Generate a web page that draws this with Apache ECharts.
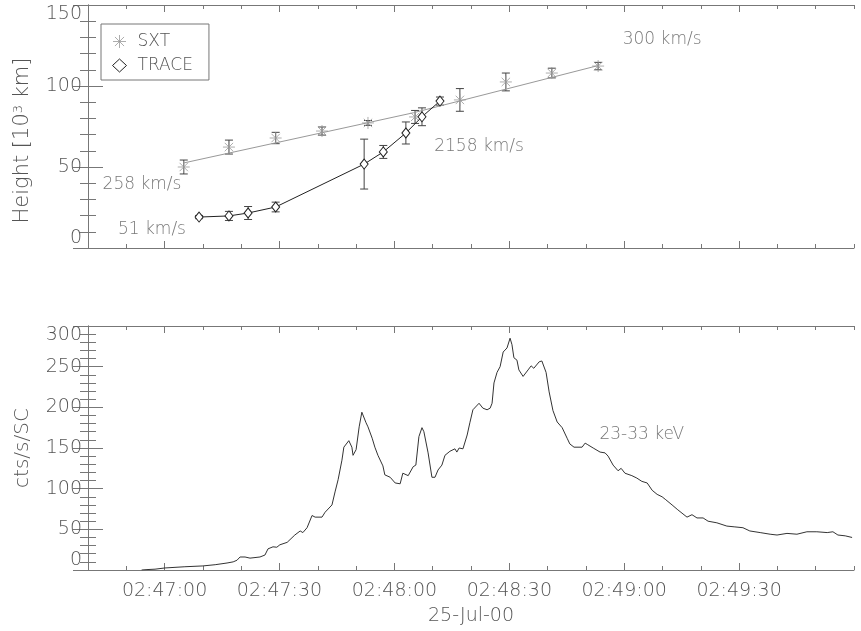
<!DOCTYPE html>
<html>
<head>
<meta charset="utf-8">
<script src="https://cdn.jsdelivr.net/npm/echarts@6/dist/echarts.min.js"></script>
<style>html,body{margin:0;padding:0;background:#fff}#c{width:861px;height:631px}</style>
</head>
<body>
<div id="c"></div>
<script>
// time axis: seconds after 02:46:40 (25-Jul-00)
const xMin = 0, xMax = 200;
const majorTicks = [20, 50, 80, 110, 140, 170];

// SXT heights (10^3 km)
const sxtTime = [25.0, 36.8, 49.0, 61.1, 73.1, 85.4, 97.1, 109.1, 121.1, 133.2];
const sxtHeight = [50.0, 62.3, 67.9, 72.2, 77.2, 80.9, 91.4, 102.5, 108.0, 112.3];
const sxtErr = [4.3, 4.3, 3.5, 2.5, 1.5, 4.0, 7.0, 5.5, 3.0, 2.3];
// SXT linear fits (258 km/s, 300 km/s)
const sxtFitTime = [25, 85, 133];
const sxtFitHeight = [52.5, 83.5, 112.5];

// TRACE heights
const traceTime = [29.0, 36.8, 41.8, 49.0, 72.1, 77.1, 83.0, 87.2, 91.9];
const traceHeight = [19.1, 19.8, 21.6, 25.3, 51.8, 59.3, 71.0, 81.0, 90.7];
const traceErr = [1.0, 2.8, 4.0, 3.0, 15.4, 4.0, 6.8, 5.5, 2.5];

// annotations [time, height, text]
const topNotes = [[14.1, 38.9, '258 km/s'], [16.7, 11.1, '51 km/s'], [102.1, 62.3, '2158 km/s'], [149.9, 128.4, '300 km/s']];
const bottomNotes = [[144.6, 166, '23-33 keV']];

// HXR light curve 23-33 keV (cts/s/SC)
const hxrTime = [14.0, 15.4, 17.5, 20.1, 25.3, 30.0, 33.2, 36.3, 37.9, 38.9, 39.7, 41.0, 42.3, 44.9, 46.2, 47.0, 48.3, 49.3, 50.1, 52.0,
  54.0, 55.4, 56.1, 57.2, 58.5, 59.3, 61.1, 61.9, 63.7, 64.5, 65.3, 66.3, 66.8, 68.1, 68.9, 69.2, 70.0, 70.8, 71.5, 71.8,
  72.6, 73.1, 74.2, 74.9, 75.7, 77.0, 77.5, 78.9, 80.2, 81.5, 82.2, 83.6, 84.9, 85.6, 86.4, 87.2, 87.7, 88.8, 89.8, 90.6,
  91.4, 92.4, 93.2, 94.5, 95.8, 96.3, 96.9, 97.9, 99.0, 99.7, 100.5, 102.1, 103.1, 104.2, 105.0, 105.5, 106.0, 106.8, 107.6, 108.4,
  109.4, 110.2, 110.7, 111.2, 112.0, 112.5, 113.6, 114.9, 115.7, 116.4, 117.8, 118.5, 119.6, 120.4, 121.4, 122.5, 123.8, 125.1, 125.8, 126.9,
  128.2, 129.0, 129.8, 130.5, 131.9, 133.7, 135.0, 135.8, 137.1, 138.4, 139.2, 140.2, 142.0, 143.3, 144.6, 146.0, 147.3, 148.6, 149.9, 150.7,
  152.5, 154.0, 156.4, 157.7, 159.0, 160.6, 161.9, 164.2, 166.8, 168.9, 171.0, 172.8, 175.5, 178.1, 179.9, 182.5, 185.1, 187.7, 190.3, 193.0,
  194.5, 195.8, 197.7, 199.5];
const hxrCounts = [0, 0.5, 1, 2.5, 4, 5, 6.5, 8.6, 10, 12, 16, 16, 14.6, 16, 18.4, 26, 28.5, 28, 31, 34,
  43, 48, 46, 52, 67, 65, 65, 71, 80, 96, 111, 135, 151, 159, 151, 141, 148, 176, 194, 193,
  181, 176, 162, 151, 141, 128, 117, 114, 107, 106, 119, 116, 127, 129, 164, 175, 170, 144, 114, 114,
  123, 129, 141, 146, 149, 145, 150, 149, 166, 181, 197, 205, 199, 197, 199, 205, 230, 243, 250, 268,
  273, 285, 277, 261, 258, 246, 238, 246, 251, 248, 256, 257, 243, 219, 196, 182, 175, 162, 155, 151,
  151, 151, 156, 154, 150, 145, 144, 140, 129, 122, 125, 119, 116, 113, 109, 107, 98, 93, 90, 87,
  80, 74, 65, 68, 64, 64, 60, 58, 54, 53, 52, 48, 46, 44, 43, 45, 44, 47, 47, 46,
  47, 43, 42, 40];

const FONT = "'DejaVu Sans', sans-serif";
const FW = 200;
const AX = '#777', TXT = '#555';
const ASTER = 'path://M0,-10L0,10M-10,0L10,0M-7,-7L7,7M-7,7L7,-7';

function fmt(t) {
  const s = 46 * 60 + 40 + Math.round(t);
  const m = Math.floor(s / 60), ss = s % 60;
  return '02:' + String(m).padStart(2, '0') + ':' + String(ss).padStart(2, '0');
}
function zip(a, b, c) { return a.map((v, i) => c ? [v, b[i], c[i]] : [v, b[i]]); }

function xAx(grid, pos, major, withLabels, extra) {
  const o = {
    type: 'value', gridIndex: grid, position: pos, min: xMin, max: xMax,
    splitLine: { show: false },
    axisLine: { show: !major, lineStyle: { color: AX, width: 1 } },
    axisTick: { show: true, inside: true, length: major ? 7 : 4, lineStyle: { color: AX } },
    axisLabel: { show: false }
  };
  if (major) {
    o.axisTick.customValues = majorTicks;
    if (withLabels) {
      o.axisLabel = { show: true, customValues: majorTicks, formatter: fmt, margin: 12, fontSize: 19,
        color: TXT, fontFamily: FONT, fontWeight: FW };
    }
  } else {
    o.interval = 10;
  }
  return Object.assign(o, extra || {});
}
function yAx(grid, pos, max, withLabels, extra) {
  return Object.assign({
    type: 'value', gridIndex: grid, position: pos, min: 0, max: max, interval: 50,
    splitLine: { show: false },
    axisLine: { show: true, lineStyle: { color: AX, width: 1 } },
    axisTick: { show: true, inside: true, length: 15, lineStyle: { color: AX } },
    minorTick: { show: true, splitNumber: 5, length: 8, lineStyle: { color: AX } },
    axisLabel: withLabels ? { show: true, margin: 6, fontSize: 19, color: TXT, fontFamily: FONT, fontWeight: FW,
      verticalAlignMinLabel: 'bottom', verticalAlignMaxLabel: 'top' } : { show: false }
  }, extra || {});
}

function errRender(params, api) {
  const x = api.value(0), y = api.value(1), e = api.value(2);
  const p0 = api.coord([x, y - e]), p1 = api.coord([x, y + e]);
  const w = 4;
  const st = { stroke: '#444', lineWidth: 1 };
  return {
    type: 'group', children: [
      { type: 'line', shape: { x1: p0[0], y1: p0[1], x2: p1[0], y2: p1[1] }, style: st },
      { type: 'line', shape: { x1: p0[0] - w, y1: p0[1], x2: p0[0] + w, y2: p0[1] }, style: st },
      { type: 'line', shape: { x1: p1[0] - w, y1: p1[1], x2: p1[0] + w, y2: p1[1] }, style: st }
    ]
  };
}
function noteSeries(notes, xi, yi) {
  return {
    type: 'scatter', xAxisIndex: xi, yAxisIndex: yi, symbolSize: 1, silent: true,
    itemStyle: { color: 'transparent' },
    data: notes.map(n => ({ value: [n[0], n[1]], label: { formatter: n[2] } })),
    label: { show: true, position: 'inside', fontSize: 17, color: TXT, fontFamily: FONT, fontWeight: FW }
  };
}

const chart = echarts.init(document.getElementById('c'));
chart.setOption({
  animation: false,
  backgroundColor: '#fff',
  grid: [
    { left: 88, right: 7, top: 5, height: 243 },
    { left: 88, right: 7, top: 326, height: 244 }
  ],
  xAxis: [
    xAx(0, 'bottom', false, false),
    xAx(0, 'bottom', true, false),
    xAx(0, 'top', false, false),
    xAx(0, 'top', true, false),
    xAx(1, 'bottom', false, false),
    xAx(1, 'bottom', true, true, { name: '25-Jul-00', nameLocation: 'middle', nameGap: 37,
      nameTextStyle: { fontSize: 19, color: TXT, fontFamily: FONT, fontWeight: FW } }),
    xAx(1, 'top', false, false),
    xAx(1, 'top', true, false)
  ],
  yAxis: [
    yAx(0, 'left', 150, true, { name: 'Height [10{sup|3} km]', nameLocation: 'middle', nameGap: 55,
      nameTextStyle: { fontSize: 21, color: TXT, fontFamily: FONT, fontWeight: FW, padding: [0, 28, 0, 0],
        rich: { sup: { fontSize: 13, color: TXT, fontFamily: FONT, fontWeight: FW, verticalAlign: 'top' } } } }),
    yAx(0, 'right', 150, false),
    yAx(1, 'left', 300, true, { name: 'cts/s/SC', nameLocation: 'middle', nameGap: 55,
      nameTextStyle: { fontSize: 20, color: TXT, fontFamily: FONT, fontWeight: FW } }),
    yAx(1, 'right', 300, false)
  ],
  legend: {
    orient: 'vertical', left: 101, top: 24, padding: [9, 16, 6, 11],
    itemWidth: 14, itemHeight: 13, itemGap: 7, selectedMode: false,
    borderColor: AX, borderWidth: 1, borderRadius: 0,
    textStyle: { fontSize: 17, color: TXT, fontFamily: FONT, fontWeight: FW, padding: [0, 0, 0, 6] },
    data: [
      { name: 'SXT', icon: ASTER, itemStyle: { color: 'transparent', borderColor: '#999', borderWidth: 1 } },
      { name: 'TRACE', icon: 'diamond', itemStyle: { color: 'transparent', borderColor: '#222', borderWidth: 1 } }
    ]
  },
  series: [
    { name: 'SXT fit', type: 'line', xAxisIndex: 0, yAxisIndex: 0, data: zip(sxtFitTime, sxtFitHeight),
      showSymbol: false, silent: true, lineStyle: { color: '#999', width: 1 } },
    { name: 'SXT err', type: 'custom', xAxisIndex: 0, yAxisIndex: 0, renderItem: errRender,
      data: zip(sxtTime, sxtHeight, sxtErr), silent: true },
    { name: 'SXT', type: 'scatter', xAxisIndex: 0, yAxisIndex: 0, data: zip(sxtTime, sxtHeight),
      symbol: ASTER, symbolSize: 12, silent: true,
      itemStyle: { color: 'transparent', borderColor: '#999', borderWidth: 1 } },
    { name: 'TRACE err', type: 'custom', xAxisIndex: 0, yAxisIndex: 0, renderItem: errRender,
      data: zip(traceTime, traceHeight, traceErr), silent: true },
    { name: 'TRACE', type: 'line', xAxisIndex: 0, yAxisIndex: 0, data: zip(traceTime, traceHeight),
      symbol: 'diamond', symbolSize: [8, 10], showAllSymbol: true, silent: true,
      lineStyle: { color: '#222', width: 1 },
      itemStyle: { color: '#fff', borderColor: '#222', borderWidth: 1 } },
    noteSeries(topNotes, 0, 0),
    { name: 'HXR', type: 'line', xAxisIndex: 4, yAxisIndex: 2, data: zip(hxrTime, hxrCounts),
      showSymbol: false, silent: true, lineStyle: { color: '#333', width: 1 } },
    noteSeries(bottomNotes, 4, 2)
  ]
});
</script>
</body>
</html>
